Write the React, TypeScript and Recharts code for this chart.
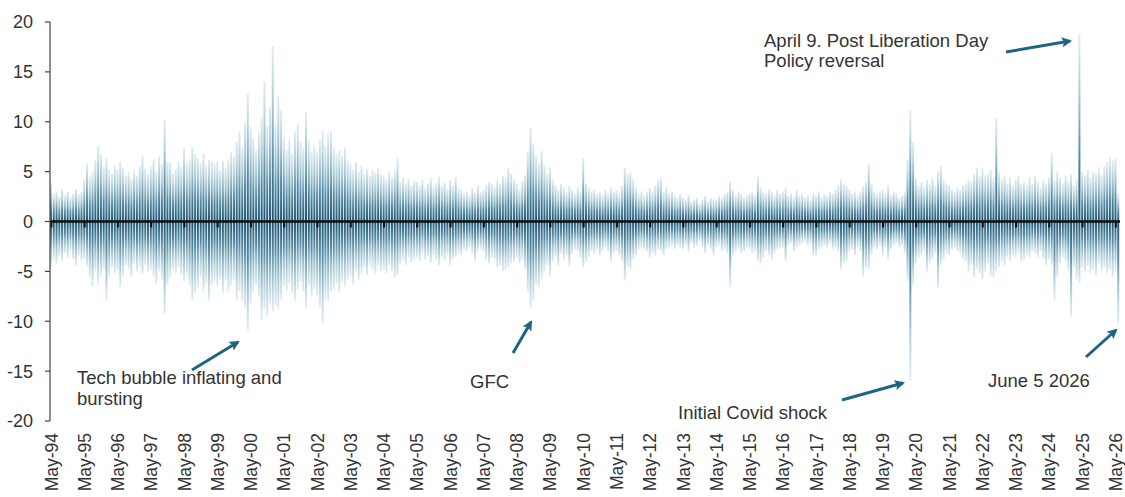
import { Bar, BarChart, ReferenceLine, XAxis, YAxis } from "recharts"

// two-digit years, May-94 .. May-26
const years = [
  "94", "95", "96", "97", "98", "99", "00", "01", "02", "03", "04",
  "05", "06", "07", "08", "09", "10", "11", "12", "13", "14", "15",
  "16", "17", "18", "19", "20", "21", "22", "23", "24", "25", "26",
]
const monthNames = ["May", "Jun", "Jul", "Aug", "Sep", "Oct", "Nov", "Dec", "Jan", "Feb", "Mar", "Apr"]

// largest daily rise in each month (%), one row per May..Apr year
const upMoves = [
  3.9, 2.8, 3.0, 2.5, 3.2, 2.6, 3.0, 2.4, 2.8, 3.3, 2.7, 3.0, // 94
  4.2, 5.8, 4.5, 5.0, 6.2, 7.6, 6.8, 5.5, 6.4, 5.2, 4.8, 5.6, // 95
  5.2, 6.0, 5.4, 4.6, 5.0, 4.3, 5.2, 4.6, 5.5, 6.6, 5.3, 4.8, // 96
  5.5, 6.2, 5.0, 6.5, 5.8, 10.2, 6.0, 6.0, 4.8, 5.2, 6.0, 5.5, // 97
  7.4, 5.8, 6.2, 7.5, 6.8, 6.4, 5.9, 6.8, 5.6, 6.2, 6.0, 5.8, // 98
  6.0, 5.2, 6.1, 5.4, 6.2, 7.0, 6.5, 8.0, 9.0, 7.5, 10.0, 12.8, // 99
  9.5, 8.4, 7.2, 9.0, 10.5, 14.0, 9.6, 11.5, 17.6, 9.8, 12.6, 11.2, // 00
  8.5, 7.2, 8.2, 6.8, 9.0, 9.7, 8.0, 7.4, 11.0, 8.2, 7.0, 7.6, // 01
  7.0, 8.2, 9.1, 7.6, 8.8, 9.0, 7.4, 6.8, 7.2, 6.6, 7.4, 6.2, // 02
  5.8, 5.2, 6.0, 5.0, 5.6, 4.8, 5.3, 4.6, 5.1, 4.9, 5.4, 4.7, // 03
  4.6, 4.2, 5.0, 4.4, 5.2, 6.4, 4.0, 4.4, 3.8, 4.3, 3.6, 4.1, // 04
  4.0, 3.6, 4.2, 3.4, 3.8, 4.4, 3.5, 3.9, 4.5, 3.6, 4.0, 3.3, // 05
  4.2, 3.6, 4.5, 3.4, 3.2, 2.8, 3.0, 2.6, 3.4, 2.9, 3.6, 3.0, // 06
  3.2, 3.6, 4.0, 3.8, 3.4, 4.2, 3.8, 4.6, 4.4, 5.4, 4.8, 4.2, // 07
  3.8, 3.2, 4.0, 4.6, 7.0, 9.4, 7.8, 6.6, 5.8, 7.1, 5.6, 4.8, // 08
  5.4, 4.2, 3.6, 3.2, 3.8, 3.4, 3.0, 3.6, 3.2, 2.8, 3.4, 3.0, // 09
  6.4, 3.8, 3.4, 3.0, 3.2, 2.8, 3.0, 2.6, 3.2, 2.8, 3.4, 3.0, // 10
  3.2, 2.8, 3.6, 5.4, 4.8, 5.0, 4.2, 3.4, 2.8, 3.0, 2.6, 3.0, // 11
  3.4, 3.0, 3.6, 4.2, 4.4, 3.0, 3.4, 2.8, 3.0, 2.6, 2.4, 2.8, // 12
  2.4, 2.2, 2.6, 2.0, 2.2, 2.4, 1.8, 2.2, 2.6, 2.0, 2.4, 2.2, // 13
  2.2, 2.6, 2.4, 2.8, 3.0, 4.0, 3.2, 2.6, 3.0, 2.8, 2.4, 2.6, // 14
  2.8, 3.0, 2.6, 4.5, 3.4, 3.0, 2.8, 3.2, 3.0, 2.6, 3.2, 2.8, // 15
  3.0, 3.4, 2.6, 2.8, 2.4, 3.2, 2.6, 2.8, 2.4, 2.6, 2.2, 2.8, // 16
  2.6, 3.0, 2.4, 2.8, 2.6, 3.0, 2.8, 3.2, 3.6, 4.2, 3.8, 3.6, // 17
  3.2, 2.8, 3.0, 2.6, 3.0, 3.6, 4.0, 5.8, 3.8, 3.0, 2.8, 3.0, // 18
  3.2, 2.8, 3.6, 2.6, 3.0, 2.8, 2.4, 2.6, 3.0, 6.2, 11.1, 8.0, // 19
  4.4, 3.6, 4.0, 3.4, 4.2, 3.8, 4.4, 3.6, 5.0, 5.6, 4.2, 3.8, // 20
  3.6, 3.2, 3.0, 3.4, 3.2, 3.6, 3.8, 4.2, 4.0, 4.8, 5.4, 4.6, // 21
  5.4, 4.6, 4.8, 5.2, 4.4, 10.3, 5.0, 4.2, 4.6, 3.8, 4.4, 3.6, // 22
  4.2, 4.6, 3.8, 4.0, 3.6, 4.4, 3.8, 4.6, 4.0, 3.4, 4.2, 3.8, // 23
  4.4, 6.9, 4.2, 5.0, 4.4, 3.8, 4.6, 4.0, 4.8, 3.6, 4.2, 18.9, // 24
  5.0, 4.6, 5.2, 4.4, 5.0, 4.8, 5.4, 4.6, 5.6, 6.0, 6.4, 6.2, // 25
  6.4, 2.8, // 26
]

// largest daily fall in each month (%)
const downMoves = [
  -4.6, -3.8, -4.2, -3.5, -4.0, -3.2, -3.6, -3.0, -3.8, -4.4, -3.4, -3.9,
  -3.8, -4.5, -5.6, -6.5, -5.0, -6.2, -5.4, -4.8, -7.9, -5.5, -4.6, -5.2,
  -5.0, -6.6, -5.4, -4.4, -4.8, -5.5, -4.2, -5.0, -4.6, -5.3, -4.4, -5.0,
  -4.8, -5.5, -6.2, -5.0, -5.8, -9.2, -6.4, -5.6, -4.8, -5.2, -4.6, -5.4,
  -6.0, -5.4, -6.4, -7.9, -7.2, -6.6, -5.6, -7.0, -6.2, -7.9, -6.4, -6.0,
  -6.5, -5.8, -7.2, -6.0, -7.0, -6.4, -5.8, -7.8, -7.0, -8.0, -8.6, -10.9,
  -8.2, -7.0, -6.4, -7.5, -9.9, -8.8, -9.5, -8.2, -9.0, -8.4, -8.8, -7.8,
  -6.5, -7.0, -6.2, -7.2, -8.0, -6.8, -6.0, -7.0, -8.6, -6.4, -7.5, -6.8,
  -7.4, -8.6, -10.2, -7.8, -8.0, -7.0, -6.8, -6.2, -7.0, -6.0, -6.5, -5.8,
  -5.5, -6.3, -5.0, -5.8, -5.2, -4.6, -5.4, -4.4, -4.8, -5.2, -4.5, -5.0,
  -4.8, -5.2, -4.4, -5.0, -5.6, -5.4, -4.2, -3.8, -4.4, -3.6, -4.1, -3.8,
  -3.6, -4.0, -3.2, -3.8, -3.5, -4.2, -3.4, -3.8, -4.4, -3.6, -3.9, -3.4,
  -4.4, -3.8, -3.6, -3.2, -3.4, -2.8, -3.0, -2.6, -3.2, -4.0, -3.0, -2.8,
  -3.0, -3.8, -4.2, -3.6, -3.8, -4.6, -4.4, -5.0, -4.8, -4.6, -4.2, -4.0,
  -3.6, -4.2, -3.8, -4.8, -7.0, -8.6, -8.0, -6.4, -6.6, -5.8, -5.0, -4.4,
  -5.4, -4.0, -3.6, -4.4, -3.2, -3.8, -3.4, -4.5, -3.2, -2.8, -3.0, -3.6,
  -4.6, -4.0, -3.6, -3.0, -3.2, -2.8, -3.4, -3.0, -2.6, -3.0, -4.0, -3.2,
  -3.0, -3.4, -4.0, -5.9, -4.6, -4.8, -3.8, -3.4, -2.8, -2.6, -2.8, -3.0,
  -3.6, -3.2, -3.4, -2.8, -3.0, -3.4, -2.8, -2.6, -2.4, -2.8, -2.4, -2.6,
  -2.8, -2.4, -3.0, -2.2, -2.6, -2.4, -2.0, -2.6, -3.2, -2.4, -2.8, -3.4,
  -2.6, -2.4, -3.0, -2.8, -3.2, -6.6, -3.4, -3.0, -2.8, -3.2, -3.0, -2.6,
  -2.8, -3.2, -3.0, -4.0, -4.2, -3.6, -3.0, -3.4, -3.8, -3.2, -2.8, -2.6,
  -2.6, -4.0, -2.4, -2.2, -3.0, -2.6, -2.4, -2.2, -2.0, -2.4, -2.2, -3.4,
  -3.4, -2.8, -2.6, -2.4, -2.6, -2.2, -2.8, -2.6, -3.0, -4.8, -4.2, -4.0,
  -3.0, -2.8, -3.4, -2.6, -3.0, -5.5, -4.6, -4.8, -3.4, -2.6, -2.8, -2.4,
  -3.4, -2.6, -3.8, -2.8, -2.4, -2.2, -2.6, -2.4, -3.2, -6.0, -15.9, -6.4,
  -4.2, -3.6, -3.4, -3.0, -5.0, -4.2, -3.8, -3.2, -6.6, -4.4, -3.8, -3.2,
  -3.4, -2.8, -2.6, -3.0, -3.2, -3.8, -4.0, -5.0, -4.4, -5.6, -4.8, -5.2,
  -5.8, -5.0, -4.2, -5.4, -5.6, -5.0, -4.6, -4.0, -4.4, -3.6, -4.0, -3.4,
  -3.6, -3.2, -4.0, -3.8, -3.4, -3.6, -3.0, -3.2, -3.6, -3.0, -3.8, -4.4,
  -3.8, -4.4, -7.9, -5.6, -4.2, -3.6, -4.0, -5.0, -9.6, -4.6, -5.8, -6.2,
  -4.6, -5.0, -4.4, -5.2, -4.8, -5.4, -4.2, -5.0, -4.6, -5.2, -4.8, -5.6,
  -5.0, -10.2,
]

const yTicks = [20, 15, 10, 5, 0, -5, -10, -15, -20]
const mayLabels = years.map((y) => `May-${y}`)

const monthLabel = (i: number) => {
  const m = i % 12
  const yi = Math.floor(i / 12) + (m >= 8 ? 1 : 0)
  return `${monthNames[m]}-${years[yi]}`
}

const data = upMoves.map((up, i) => ({ label: monthLabel(i), up, dn: downMoves[i] }))

const FONT = '"Liberation Sans", Arial, sans-serif'
const TEXT = "#333"
const ARROW = "#1d6580"

const MonthTick = (props: any) => {
  const { x, y, payload } = props
  return (
    <text
      x={x}
      y={y}
      transform={`rotate(-90, ${x}, ${y})`}
      textAnchor="end"
      dy="0.35em"
      fontSize={17.5}
      fill={TEXT}
      fontFamily={FONT}
    >
      {payload.value}
    </text>
  )
}

function Notes() {
  const t = { fontSize: 18.5, fill: TEXT, fontFamily: FONT }
  const arrows = [
    [192, 370, 238, 342],
    [513, 353, 531, 322],
    [842, 400, 903, 383],
    [1006, 52, 1070, 41],
    [1086, 357, 1116, 330],
  ]
  return (
    <svg width={1125} height={497} style={{ position: "absolute", left: 0, top: 0, pointerEvents: "none" }}>
      <defs>
        <marker id="head" viewBox="0 0 10 10" refX="8" refY="5" markerWidth="3.4" markerHeight="3.4" orient="auto">
          <path d="M0,0 L10,5 L0,10 L2,5 z" fill={ARROW} />
        </marker>
      </defs>
      {arrows.map(([x1, y1, x2, y2], i) => (
        <line key={i} x1={x1} y1={y1} x2={x2} y2={y2} stroke={ARROW} strokeWidth={3} markerEnd="url(#head)" />
      ))}
      <text x={764} y={47} {...t}>April 9. Post Liberation Day</text>
      <text x={764} y={67} {...t}>Policy reversal</text>
      <text x={77} y={384} {...t}>Tech bubble inflating and</text>
      <text x={77} y={405} {...t}>bursting</text>
      <text x={470} y={388} {...t}>GFC</text>
      <text x={678} y={419} {...t}>Initial Covid shock</text>
      <text x={988} y={387} {...t}>June 5 2026</text>
    </svg>
  )
}

export default function App() {
  return (
    <div style={{ position: "absolute", left: 0, top: 0, width: 1125, height: 497, background: "#fff" }}>
      <BarChart
        width={1125}
        height={497}
        data={data}
        margin={{ top: 22, right: 5, bottom: 0, left: 0 }}
        barCategoryGap={0}
        barSize={2}
        stackOffset="sign"
      >
        <defs>
          <linearGradient id="upFill" x1="0" y1="0" x2="0" y2="1">
            <stop offset="0%" stopColor="#9cc3d3" stopOpacity={0.3} />
            <stop offset="35%" stopColor="#5b95ad" stopOpacity={0.55} />
            <stop offset="65%" stopColor="#2d6e8e" stopOpacity={0.8} />
            <stop offset="100%" stopColor="#1a5572" stopOpacity={1} />
          </linearGradient>
          <linearGradient id="dnFill" x1="0" y1="0" x2="0" y2="1">
            <stop offset="0%" stopColor="#1a5572" stopOpacity={1} />
            <stop offset="35%" stopColor="#2d6e8e" stopOpacity={0.8} />
            <stop offset="65%" stopColor="#5b95ad" stopOpacity={0.55} />
            <stop offset="100%" stopColor="#9cc3d3" stopOpacity={0.3} />
          </linearGradient>
        </defs>
        <XAxis
          dataKey="label"
          interval={11}
          axisLine={false}
          tickLine={false}
          tickSize={0}
          tickMargin={12}
          height={76}
          tick={<MonthTick />}
        />
        <YAxis
          type="number"
          domain={[-20, 20]}
          ticks={yTicks}
          width={50}
          tickSize={5}
          tickMargin={12}
          axisLine={{ stroke: "#444", strokeWidth: 1.2 }}
          tickLine={{ stroke: "#444", strokeWidth: 1.2 }}
          tick={{ fontSize: 18, fill: TEXT, fontFamily: FONT }}
        />
        <Bar dataKey="up" stackId="s" fill="url(#upFill)" isAnimationActive={false} />
        <Bar dataKey="dn" stackId="s" fill="url(#dnFill)" isAnimationActive={false} />
        <ReferenceLine y={0} stroke="#111" strokeWidth={2.5} />
        {mayLabels.map((m) => (
          <ReferenceLine key={m} segment={[{ x: m, y: 0 }, { x: m, y: -0.6 }]} stroke="#111" strokeWidth={2} />
        ))}
      </BarChart>
      <Notes />
    </div>
  )
}
